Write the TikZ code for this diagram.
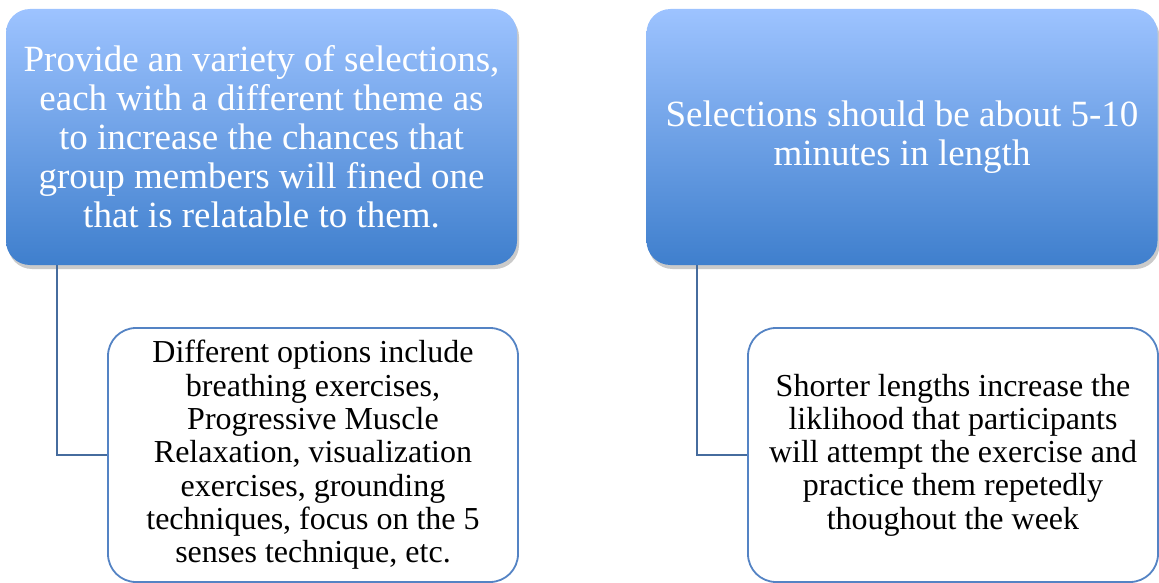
\documentclass[tikz,border=0pt]{standalone}
\usepackage{fontspec}
\setmainfont{Liberation Serif}
\usepackage{tikz}
\usetikzlibrary{shadows}
\tikzset{>=latex}
\definecolor{topblue}{RGB}{157,195,255}
\definecolor{midblue}{RGB}{128,170,238}
\definecolor{botblue}{RGB}{63,127,205}
\definecolor{rimblue}{RGB}{84,131,196}
\definecolor{linkblue}{RGB}{70,108,158}
\tikzset{
  headbox/.style={rounded corners=24pt,top color=topblue,middle color=midblue,bottom color=botblue,
    minimum width=511pt,minimum height=256pt,inner sep=0pt,align=center,text=white,
    font=\fontsize{37}{39}\selectfont,
    drop shadow={shadow xshift=2pt,shadow yshift=-4pt,opacity=0.35,fill=black!60}},
  notebox/.style={draw=rimblue,line width=1.8pt,rounded corners=28pt,fill=white,
    minimum width=410pt,minimum height=254pt,inner sep=0pt,align=center,
    font=\fontsize{32}{33.3}\selectfont},
  link/.style={draw=linkblue,line width=1.5pt}
}

\begin{document}
\begin{tikzpicture}[x=1pt,y=-1pt]
      \useasboundingbox (0,0) rectangle (1159,583);
      \node[headbox] (variety) at (261.5,137) {Provide an variety of selections,\\each with a different theme as\\to increase the chances that\\group members will fined one\\that is relatable to them.};
      \node[headbox] (length) at (902,137) {Selections should be about 5-10\\minutes in length};
      \node[notebox] (options) at (313,455) {Different options include\\breathing exercises,\\Progressive Muscle\\Relaxation, visualization\\exercises, grounding\\techniques, focus on the 5\\senses technique, etc.};
      \node[notebox] (shorter) at (953,455) {Shorter lengths increase the\\liklihood that participants\\will attempt the exercise and\\practice them repetedly\\thoughout the week};
      \coordinate (varietyfoot) at (57,265);
      \coordinate (lengthfoot) at (697,265);
      \draw[link] (varietyfoot) |- (options.west);
      \draw[link] (lengthfoot) |- (shorter.west);
\end{tikzpicture}
\end{document}
